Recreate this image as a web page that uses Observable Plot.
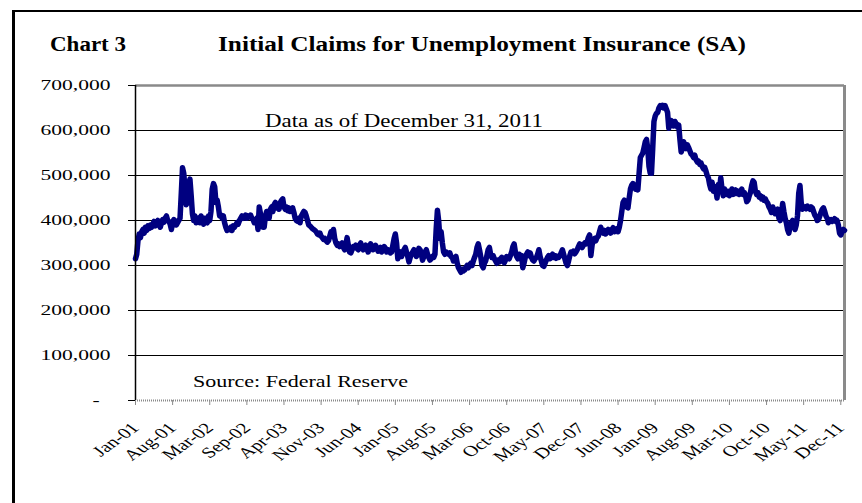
<!DOCTYPE html>
<html>
<head>
<meta charset="utf-8">
<script src="https://cdn.jsdelivr.net/npm/d3@7"></script>
<script src="https://cdn.jsdelivr.net/npm/@observablehq/plot@0.6"></script>
<style>
  html, body { margin: 0; padding: 0; background: #fff; }
  #wrap { position: relative; width: 862px; height: 503px; overflow: hidden; background: #fff;
          font-family: 'Liberation Serif', 'Times New Roman', serif; color: #000; }
  .frame { position: absolute; left: 12px; top: 10px; width: 860px; height: 500px;
           border-top: 2px solid #000; border-left: 3px solid #000; }
  .lbl { position: absolute; white-space: nowrap; line-height: 1; transform-origin: 0 0; }
  #chart { position: absolute; left: 0; top: 60px; }
</style>
</head>
<body>
<div id="wrap">
  <div class="frame"></div>
  <div id="chart"></div>
  <div id="t1" class="lbl" style="font-weight:bold">Chart 3</div>
  <div id="t2" class="lbl" style="font-weight:bold">Initial Claims for Unemployment Insurance (SA)</div>
  <div id="a1" class="lbl">Data as of December 31, 2011</div>
  <div id="a2" class="lbl">Source: Federal Reserve</div>
</div>
<script>
// Weekly initial claims, seasonally adjusted, in thousands (week ending Saturdays, first week ends Jan 6, 2001)
const claims2001 = [315,325,355,370,362,375,380,372,385,378,388,382,390,385,392,398,388,395,400,392,385,395,402,396,405,410,400,398,392,380,395,402,398,390,395,400,405,460,517,505,470,435,440,480,492,455,415,400,410,395,400,405];
const claims2002 = [395,410,400,392,405,398,395,410,400,420,470,482,475,440,445,430,410,412,405,410,395,385,378,382,380,385,378,388,385,390,395,392,400,405,410,405,408,412,405,410,408,412,405,402,395,400,405,380,430,415,395,385];
const claims2003 = [385,410,420,415,405,425,430,420,435,440,428,432,425,440,445,448,430,425,430,422,428,420,425,428,418,405,400,398,405,395,410,415,420,418,410,400,390,388,385,382,380,378,375,370,368,372,365,362,358,360,355,352];
const claims2004 = [355,365,375,370,380,360,350,345,348,342,345,350,340,335,345,362,345,330,328,335,342,340,345,338,335,345,350,340,335,340,345,338,330,340,348,342,335,338,345,340,332,335,340,330,335,342,338,330,335,332,328,330];
const claims2005 = [345,360,370,350,315,325,330,320,328,335,340,330,320,308,318,325,330,335,330,320,325,338,335,325,312,320,330,335,325,318,312,315,320,318,325,380,423,400,360,375,350,330,325,330,328,325,328,320,318,310,315,320,305];
const claims2006 = [295,290,285,292,288,290,296,300,295,302,305,300,310,318,325,340,348,335,320,300,295,305,310,322,335,340,325,318,322,315,310,305,312,308,315,318,310,306,312,320,318,315,322,330,342,348,330,320,315,325,318,322];
const claims2007 = [295,305,318,325,330,322,328,318,312,310,315,318,325,335,320,310,300,298,305,312,318,322,315,320,325,318,322,316,320,318,322,328,335,325,315,305,300,310,322,330,328,332,326,330,335,342,348,345,340,345,350,348];
const claims2008 = [352,362,368,322,345,358,360,355,362,365,375,385,375,372,378,370,375,380,378,372,380,384,375,380,382,375,385,400,420,440,445,438,430,428,450,470,478,482,475,470,478,468,505,540,545,550,562,575,580,560,520,505];
const claims2009 = [505,560,620,632,638,640,650,655,652,656,650,655,648,640,605,615,622,618,610,620,615,608,612,580,552,560,575,565,560,568,562,555,548,545,540,545,535,530,532,525,528,520,515,518,510,500,495,480,470,485,465,475];
const claims2010 = [468,450,480,470,495,470,455,470,462,458,465,455,460,470,458,462,468,460,465,458,462,470,458,462,455,442,445,455,462,478,488,485,465,458,462,452,455,448,452,445,448,442,438,430,425,418,430,422,415,420,425,405];
const claims2011 = [400,410,438,420,405,395,380,372,385,395,400,392,380,390,410,460,478,440,425,428,430,426,432,428,425,430,428,420,412,408,400,402,410,418,425,428,420,410,405,395,400,402,398,400,404,398,400,390,372,368,375,380,378];

// Axis tick labels (x labels every 30 weeks, as in the original category axis)
const xTickLabels = ["Jan-01","Aug-01","Mar-02","Sep-02","Apr-03","Nov-03","Jun-04","Jan-05","Aug-05","Mar-06","Oct-06","May-07","Dec-07","Jun-08","Jan-09","Aug-09","Mar-10","Oct-10","May-11","Dec-11"];
const xTickWeekStep = 30;
const yTickValues = [0,100000,200000,300000,400000,500000,600000,700000];
const yTickLabels = ["-\u00a0\u00a0","100,000","200,000","300,000","400,000","500,000","600,000","700,000"];

const MS_WEEK = 7 * 24 * 3600 * 1000;
const startDate = new Date(Date.UTC(2001, 0, 6));
const weekly = [].concat(claims2001, claims2002, claims2003, claims2004, claims2005, claims2006,
                         claims2007, claims2008, claims2009, claims2010, claims2011);
const table = weekly.map((v, i) => ({ date: new Date(startDate.getTime() + i * MS_WEEK), claims: v * 1000 }));
const endDate = table[table.length - 1].date;
const xTicks = xTickLabels.map((_, k) => new Date(startDate.getTime() + k * xTickWeekStep * MS_WEEK));
const xFmt = d => xTickLabels[Math.round((d - startDate) / (xTickWeekStep * MS_WEEK))];
const yFmt = d => yTickLabels[yTickValues.indexOf(d)];

const chart = Plot.plot({
  width: 862,
  height: 443,
  marginTop: 25,
  marginRight: 18,
  marginBottom: 103,
  marginLeft: 135,
  style: { fontFamily: "'Liberation Serif','Times New Roman',serif", background: "transparent", color: "#000", overflow: "visible" },
  x: { type: "utc", domain: [startDate, endDate] },
  y: { domain: [0, 700000] },
  marks: [
    Plot.ruleY(yTickValues.slice(1, -1), { stroke: "#000", strokeWidth: 1.2 }),
    Plot.ruleY([700000], { stroke: "#8a8a8a", strokeWidth: 2.5 }),
    Plot.ruleX([endDate], { stroke: "#8a8a8a", strokeWidth: 3 }),
    Plot.ruleY([0], { stroke: "#8a8a8a", strokeWidth: 2, strokeDasharray: "1,1" }),
    Plot.line(table, { x: "date", y: "claims", stroke: "#000080", strokeWidth: 5.5, strokeLinejoin: "round", strokeLinecap: "round" }),
    Plot.ruleX([startDate], { stroke: "#000", strokeWidth: 1.5 }),
    Plot.axisY({ ticks: yTickValues, tickFormat: yFmt, tickSize: 7, tickPadding: 18, fontSize: 15, label: null, stroke: "#000" }),
    Plot.axisX({ ticks: xTicks, tickFormat: xFmt, tickRotate: -45, tickSize: 5, tickPadding: 20, fontSize: 15, label: null, stroke: "#8a8a8a" })
  ]
});
document.getElementById("chart").appendChild(chart);

function stretchText(t, s) {
  const tr = t.getAttribute("transform");
  if (tr) {
    if (/rotate\(/.test(tr)) t.setAttribute("transform", tr.replace(/rotate\(/, `scale(${s},1) rotate(`));
    else t.setAttribute("transform", tr + ` scale(${s},1)`);
  } else {
    const x = parseFloat(t.getAttribute("x") || 0), y = parseFloat(t.getAttribute("y") || 0);
    t.removeAttribute("x"); t.removeAttribute("y");
    t.setAttribute("transform", `translate(${x},${y}) scale(${s},1)`);
  }
}
const yTexts = Array.from(chart.querySelectorAll('g[aria-label="y-axis tick label"] text'));
const ref = yTexts.find(t => t.textContent === "700,000");
const sy = ref ? 70 / ref.getComputedTextLength() : 1.4;
yTexts.forEach(t => stretchText(t, sy));
Array.from(chart.querySelectorAll('g[aria-label="x-axis tick label"] text')).forEach(t => stretchText(t, 1.4));

function place(id, left, baseline, width, size) {
  const el = document.getElementById(id);
  el.style.fontSize = size + "px";
  el.style.left = left + "px";
  el.style.top = (baseline - 0.8375 * size) + "px";
  const w = el.getBoundingClientRect().width;
  el.style.transform = `scaleX(${width / w})`;
}
place("t1", 50, 51, 76, 20);
place("t2", 218, 51, 528, 20);
place("a1", 265, 127, 278, 18);
place("a2", 193, 387, 215, 16);
</script>
</body>
</html>
